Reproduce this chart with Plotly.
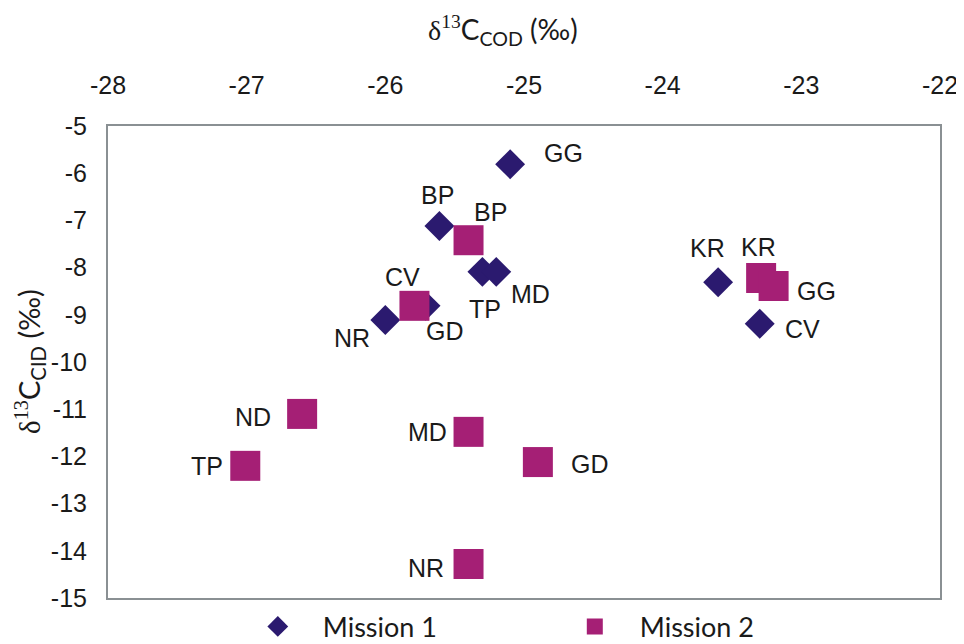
import plotly.graph_objects as go

# Mission 1 (diamonds)
m1_names = ["GG", "BP", "TP", "MD", "GD", "NR", "KR", "CV"]
m1_cod = [-25.10, -25.61, -25.30, -25.20, -25.71, -26.00, -23.60, -23.30]
m1_cid = [-5.81, -7.12, -8.09, -8.09, -8.81, -9.11, -8.31, -9.19]

# Mission 2 (squares)
m2_names = ["BP", "CV", "KR", "GG", "ND", "TP", "MD", "GD", "NR"]
m2_cod = [-25.40, -25.79, -23.29, -23.20, -26.60, -27.01, -25.40, -24.90, -25.40]
m2_cid = [-7.42, -8.81, -8.22, -8.39, -11.10, -12.20, -11.48, -12.12, -14.28]

x_ticks = [-28, -27, -26, -25, -24, -23, -22]
y_ticks = [-5, -6, -7, -8, -9, -10, -11, -12, -13, -14, -15]

# label offsets in pixels (dx right, dy down)
m1_off = [(53, -11), (-2, -31), (3, 37), (34, 22), (19, 25), (-33, 18), (-11, -34), (43, 5)]
m2_off = [(22, -28), (-12, -29), (-3, -31), (43, 5), (-49, 3), (-38, 0), (-41, 0), (52, 2), (-43, 4)]

navy = "#2b1a6f"
magenta = "#a51f75"
sans = "Liberation Sans"
serif = "Liberation Serif"

fig = go.Figure()
fig.add_trace(go.Scatter(
    x=m1_cod, y=m1_cid, mode="markers", name="Mission 1",
    marker=dict(symbol="diamond", size=23, color=navy, line=dict(width=0)),
))
fig.add_trace(go.Scatter(
    x=m2_cod, y=m2_cid, mode="markers", name="Mission 2",
    marker=dict(symbol="square", size=30, color=magenta, line=dict(width=0)),
))

for names, xs, ys, offs in [(m1_names, m1_cod, m1_cid, m1_off),
                            (m2_names, m2_cod, m2_cid, m2_off)]:
    for n, x, y, (dx, dy) in zip(names, xs, ys, offs):
        fig.add_annotation(x=x, y=y, text=n, showarrow=False,
                           xshift=dx, yshift=-dy,
                           font=dict(family=sans, size=25, color="#1a1a1a"))

fig.add_annotation(
    xref="paper", yref="paper", x=0.475, y=1, yshift=96, yanchor="middle",
    showarrow=False,
    text=(f"<span style='font-family:{serif}'>δ<sup>13</sup></span>C"
          "<sub>COD</sub> (‰)"),
    font=dict(family="Lato", size=28, color="#1a1a1a"),
)
fig.add_annotation(
    xref="paper", yref="paper", x=0, y=0.5, xshift=-78, xanchor="center",
    textangle=-90, showarrow=False,
    text=(f"<span style='font-family:{serif}'>δ<sup>13</sup></span>C"
          "<sub>CID</sub> (‰)"),
    font=dict(family="Lato", size=29, color="#1a1a1a"),
)

axis_common = dict(
    showgrid=False, zeroline=False, showline=True, mirror=True,
    linecolor="#8a9093", linewidth=2, ticks="", automargin=False,
    tickfont=dict(family=sans, size=25, color="#1a1a1a"),
)
fig.update_xaxes(range=[-28, -22], side="top", tickvals=x_ticks,
                 ticktext=[str(v) for v in x_ticks],
                 ticklabelstandoff=20, **axis_common)
fig.update_yaxes(range=[-15, -5], tickvals=y_ticks,
                 ticktext=[str(v) for v in y_ticks],
                 ticklabelstandoff=14, **axis_common)

# page body has an 8px margin, so the figure is sized to fit inside it
fig.update_layout(
    width=956, height=636,
    margin=dict(l=100, r=24, t=118, b=46),
    plot_bgcolor="white", paper_bgcolor="white",
    showlegend=True,
    legend=dict(orientation="h", xref="paper", yref="container",
                x=0.15, y=0.027, xanchor="left", yanchor="middle",
                entrywidth=222, entrywidthmode="pixels", itemwidth=80,
                font=dict(family="Lato", size=27, color="#1a1a1a")),
)

fig.write_html("out.html")
